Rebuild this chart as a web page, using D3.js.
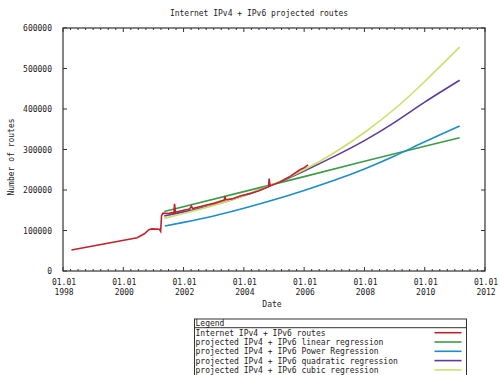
<!DOCTYPE html>
<html>
<head>
<meta charset="utf-8">
<script src="https://cdn.jsdelivr.net/npm/d3@7"></script>
<style>
  body { margin: 0; background: #fff; }
  svg { display: block; }
  text { font-family: "DejaVu Sans Mono", monospace; font-size: 8px; fill: #1a1a1a; }
</style>
</head>
<body>
<svg id="chart" width="500" height="375"></svg>
<script>
// year (decimal), routes in thousands
const routesYears = [1998.28, 2000.46, 2000.7, 2000.85, 2000.95, 2001.2, 2001.24, 2001.27, 2001.32, 2001.5, 2001.6, 2001.68, 2001.7, 2001.73,
  2002.0, 2002.2, 2002.26, 2002.3, 2002.6, 2003.0, 2003.35, 2003.37, 2003.4, 2003.6, 2003.9, 2004.2, 2004.5, 2004.82, 2004.84, 2004.87,
  2005.2, 2005.5, 2005.86, 2006.0, 2006.13];
const routesValues = [52, 82, 92, 102, 104, 103, 98, 137, 143, 142, 144, 143, 166, 145,
  150, 153, 160, 154, 160, 167, 175, 184, 176, 178, 186, 191, 198, 208, 228, 210,
  220, 232, 250, 255, 262];

const linearYears = [2001.36, 2004, 2006, 2008, 2010, 2011.16];
const linearValues = [147, 196, 233, 271, 308, 329];

const powerYears = [2001.38, 2002, 2003, 2004, 2005, 2006, 2007, 2008, 2009, 2010, 2011.16];
const powerValues = [111, 120, 136, 155, 176, 199, 224, 252, 284, 319, 358];

const quadYears = [2001.36, 2002, 2003, 2004, 2005, 2006, 2007, 2008, 2009, 2010, 2011.16];
const quadValues = [136, 146, 163, 186, 214, 247, 283, 322, 367, 417, 471];

const cubicYears = [2001.36, 2002, 2003, 2004, 2005, 2006, 2007, 2008, 2009, 2010, 2011.16];
const cubicValues = [130, 142, 162, 186, 215, 250, 292, 342, 400, 468, 553];

const yTicks = [0, 100000, 200000, 300000, 400000, 500000, 600000];
const xTickYears = [1998, 2000, 2002, 2004, 2006, 2008, 2010, 2012];

const seriesNames = ["Internet IPv4 + IPv6 routes", "projected IPv4 + IPv6 linear regression",
  "projected IPv4 + IPv6 Power Regression", "projected IPv4 + IPv6 quadratic regression",
  "projected IPv4 + IPv6 cubic regression"];
const seriesColors = ["#c0222c", "#3d9b46", "#1d8dc6", "#5b3c9c", "#cbe06a"];

const margin = {top: 28, right: 15, bottom: 104, left: 63};
const width = 500 - margin.left - margin.right;
const height = 375 - margin.top - margin.bottom;

const x = d3.scaleLinear().domain([1998, 2012]).range([0, width]);
const y = d3.scaleLinear().domain([0, 600000]).range([height, 0]);

const svg = d3.select('#chart');
const chart = svg.append('g')
  .attr('transform', 'translate(' + margin.left + ',' + margin.top + ')');

svg.append('text').text('Internet IPv4 + IPv6 projected routes')
  .attr('x', 259).attr('y', 16).attr('text-anchor', 'middle');

// minor ticks every quarter year on bottom and top
const minor = d3.range(1998, 2012.01, 0.25);
chart.selectAll('.mb').data(minor).enter().append('line')
  .attr('x1', d => x(d)).attr('x2', d => x(d))
  .attr('y1', height).attr('y2', d => height - (d % 2 === 0 ? 4 : 2))
  .attr('stroke', '#333');
chart.selectAll('.mt').data(minor).enter().append('line')
  .attr('x1', d => x(d)).attr('x2', d => x(d))
  .attr('y1', 0).attr('y2', d => (d % 2 === 0 ? 4 : 2))
  .attr('stroke', '#333');

// y ticks on both sides
chart.selectAll('.yl').data(yTicks).enter().append('line')
  .attr('x1', 0).attr('x2', 4).attr('y1', d => y(d)).attr('y2', d => y(d)).attr('stroke', '#333');
chart.selectAll('.yr').data(yTicks).enter().append('line')
  .attr('x1', width).attr('x2', width - 4).attr('y1', d => y(d)).attr('y2', d => y(d)).attr('stroke', '#333');

chart.selectAll('.ylab').data(yTicks).enter().append('text')
  .attr('x', -11).attr('y', d => y(d) + 3)
  .attr('text-anchor', 'end')
  .text(d => d);

const xl = chart.selectAll('.xlab').data(xTickYears).enter().append('text')
  .attr('text-anchor', 'middle')
  .attr('transform', d => 'translate(' + (x(d) + 1) + ',' + (height + 14) + ')');
xl.append('tspan').attr('x', 0).attr('y', 0).text('01.01');
xl.append('tspan').attr('x', 0).attr('y', 9.5).text(d => d);

svg.append('text').text('Date').attr('x', 272).attr('y', 307).attr('text-anchor', 'middle');
svg.append('text').text('Number of routes')
  .attr('text-anchor', 'middle')
  .attr('transform', 'translate(14,157) rotate(-90)');

chart.append('rect')
  .attr('width', width).attr('height', height)
  .attr('fill', 'none').attr('stroke', '#333').attr('stroke-width', 1.2);

const line = d3.line().x(d => x(d[0])).y(d => y(d[1] * 1000));
const curve = d3.line().x(d => x(d[0])).y(d => y(d[1] * 1000)).curve(d3.curveNatural);
const pairs = (ys, vs) => ys.map((t, i) => [t, vs[i]]);

const series = [
  {data: pairs(linearYears, linearValues), color: seriesColors[1], smooth: false},
  {data: pairs(powerYears, powerValues), color: seriesColors[2], smooth: true},
  {data: pairs(quadYears, quadValues), color: seriesColors[3], smooth: true},
  {data: pairs(cubicYears, cubicValues), color: seriesColors[4], smooth: true},
  {data: pairs(routesYears, routesValues), color: seriesColors[0], smooth: false}
];

chart.selectAll('.series').data(series).enter().append('path')
  .attr('fill', 'none')
  .attr('stroke', d => d.color)
  .attr('stroke-width', 1.6)
  .attr('d', d => d.smooth ? curve(d.data) : line(d.data));

// Legend
const legend = svg.append('g').attr('transform', 'translate(194.5,319)');
legend.append('rect').attr('width', 272).attr('height', 70)
  .attr('fill', '#fff').attr('stroke', '#333').attr('stroke-width', 1);
legend.append('line').attr('x1', 0).attr('x2', 272).attr('y1', 8.7).attr('y2', 8.7).attr('stroke', '#333');
legend.append('text').text('Legend').attr('x', 1).attr('y', 7);
const rows = legend.selectAll('.row').data(seriesNames).enter().append('g')
  .attr('transform', (d, i) => 'translate(0,' + (13.7 + i * 9.3) + ')');
rows.append('text').text(d => d).attr('x', 1).attr('y', 3);
rows.append('line').attr('x1', 240).attr('x2', 267).attr('y1', 0).attr('y2', 0)
  .attr('stroke', (d, i) => seriesColors[i]).attr('stroke-width', 1.6);
</script>
</body>
</html>
